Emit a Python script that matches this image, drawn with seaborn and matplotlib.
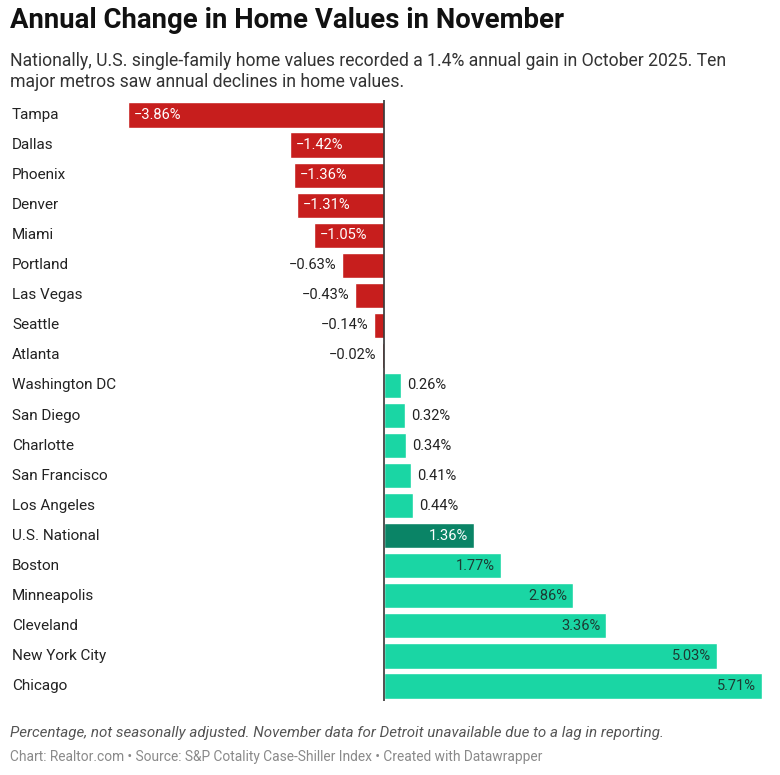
import numpy as np
import pandas as pd
import matplotlib.pyplot as plt
import matplotlib.transforms as mtransforms
import seaborn as sns

# Datos del gráfico
ciudades = ["Tampa", "Dallas", "Phoenix", "Denver", "Miami", "Portland", "Las Vegas",
            "Seattle", "Atlanta", "Washington DC", "San Diego", "Charlotte",
            "San Francisco", "Los Angeles", "U.S. National", "Boston", "Minneapolis",
            "Cleveland", "New York City", "Chicago"]
cambios = [-3.86, -1.42, -1.36, -1.31, -1.05, -0.63, -0.43, -0.14, -0.02, 0.26,
           0.32, 0.34, 0.41, 0.44, 1.36, 1.77, 2.86, 3.36, 5.03, 5.71]

titulo = "Annual Change in Home Values in November"
subtitulo = ("Nationally, U.S. single-family home values recorded a 1.4% annual gain in October 2025. Ten\n"
             "major metros saw annual declines in home values.")
nota = "Percentage, not seasonally adjusted. November data for Detroit unavailable due to a lag in reporting."
fuente = "Chart: Realtor.com \u2022 Source: S&P Cotality Case-Shiller Index \u2022 Created with Datawrapper"

ROJO = "#c71e1d"
VERDE = "#1ad6a4"
VERDE_OSCURO = "#0a8466"

sns.set_theme(style="white")
plt.rcParams['font.family'] = ['Roboto', 'DejaVu Sans']

df = pd.DataFrame({"ciudad": ciudades, "cambio": cambios})
colores = {}
for c, v in zip(ciudades, cambios):
    if c == "U.S. National":
        colores[c] = VERDE_OSCURO
    elif v < 0:
        colores[c] = ROJO
    else:
        colores[c] = VERDE

fig = plt.figure(figsize=(7.8, 7.75), dpi=100)
ax = fig.add_axes([128 / 780, 1 - 701 / 775, (762 - 128) / 780, 601 / 775])

sns.barplot(data=df, x="cambio", y="ciudad", hue="ciudad", palette=colores,
            orient="h", width=0.84, legend=False, ax=ax, saturation=1)

ax.set_xlim(min(cambios), max(cambios))
ax.set_ylim(len(ciudades) - 0.5, -0.5)
ax.axvline(0, color="#333333", lw=1.2, zorder=5)
for s in ax.spines.values():
    s.set_visible(False)
ax.set_xticks([])
ax.set_yticks([])
ax.set_xlabel("")
ax.set_ylabel("")

# Etiquetas de ciudades en el margen izquierdo
trans = mtransforms.blended_transform_factory(fig.transFigure, ax.transData)
for i, c in enumerate(ciudades):
    ax.text(12 / 780, i, c, transform=trans, ha="left", va="center",
            fontsize=11, color="#222222")

# Etiquetas de valores
pad = 0.09
for i, (c, v) in enumerate(zip(ciudades, cambios)):
    txt = f"{v:.2f}%".replace("-", "\u2212")
    if v < 0:
        if v <= -1.0:
            ax.text(v + pad, i, txt, ha="left", va="center", fontsize=10.5, color="white")
        else:
            ax.text(v - pad, i, txt, ha="right", va="center", fontsize=10.5, color="#222222")
    else:
        if c == "U.S. National":
            ax.text(v - pad, i, txt, ha="right", va="center", fontsize=10.5, color="white")
        elif v >= 1.0:
            ax.text(v - pad, i, txt, ha="right", va="center", fontsize=10.5, color="#1d3b33")
        else:
            ax.text(v + pad, i, txt, ha="left", va="center", fontsize=10.5, color="#222222")

# Título, subtítulo y notas
fig.text(10 / 780, 1 - 21 / 775, titulo, ha="left", va="center", fontsize=19.8,
         fontweight="bold", color="#111111")
fig.text(10 / 780, 1 - 52 / 775, subtitulo, ha="left", va="top", fontsize=12.7,
         color="#333333", linespacing=1.2)
fig.text(10 / 780, 1 - 733 / 775, nota, ha="left", va="center", fontsize=10.9,
         style="italic", color="#555555")
fig.text(10 / 780, 1 - 757 / 775, fuente, ha="left", va="center", fontsize=9.9,
         color="#8a8a8a")

plt.savefig("out.png", dpi=100)
